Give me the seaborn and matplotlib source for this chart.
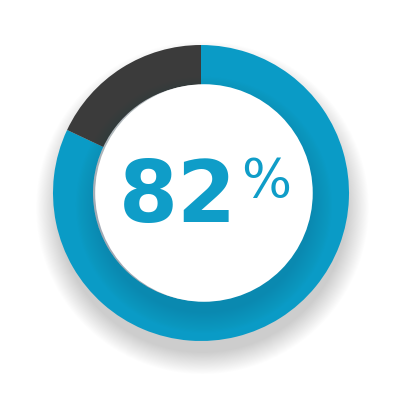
import numpy as np
import seaborn as sns
import matplotlib.pyplot as plt
from matplotlib.patches import Circle

# data
labels = ['Yes', 'No']
values = [82, 18]
colors = ['#0a9bc6', '#3b3b3b']
text_color = '#0f9dc8'

sns.set_theme(style='white')
plt.rcParams['font.family'] = ['DejaVu Sans']

fig = plt.figure(figsize=(4, 4), dpi=100)
ax = fig.add_axes([0, 0, 1, 1])

# soft drop shadow under the ring
for i in range(25):
    r = 0.98 + 0.006 * i
    ax.add_patch(Circle((0.01, -0.1), r, color='black', alpha=0.006, lw=0, zorder=0))

wedges, _ = ax.pie(values, colors=colors, startangle=90, counterclock=False,
                   radius=1.0, wedgeprops=dict(width=0.27, linewidth=0))
for w in wedges:
    w.set_zorder(1)

# inner shadow of the white disc on the ring
outer = Circle((0, 0), 1.0, transform=ax.transData)
for i in range(18):
    r = 0.73 + 0.008 * i
    c = Circle((0.02, -0.08), r, color='#0a4f6a', alpha=0.012, lw=0, zorder=2)
    ax.add_patch(c)
    c.set_clip_path(outer)

ax.add_patch(Circle((0.02, 0.0), 0.735, color='white', lw=0, zorder=3))

ax.text(-0.159, -0.196, '{}'.format(values[0]), ha='center', va='baseline',
        fontsize=61, fontweight='bold', color=text_color, zorder=4)
ax.text(0.44, -0.027, '%', ha='center', va='baseline',
        fontsize=38, fontweight='normal', color=text_color, zorder=4)

ax.set_xlim(-201 / 148, 199 / 148)
ax.set_ylim(-207 / 148, 193 / 148)
ax.set_aspect('equal')
ax.axis('off')

plt.savefig('out.png', dpi=100, facecolor='white')
